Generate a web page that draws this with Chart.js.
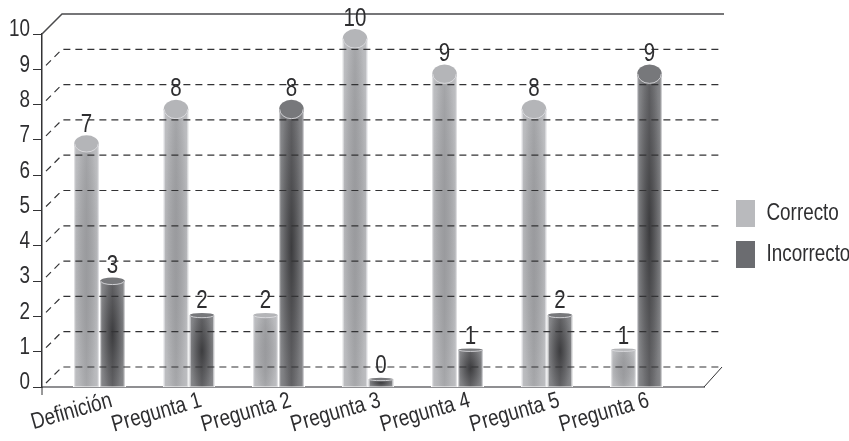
<!DOCTYPE html>
<html>
<head>
<meta charset="utf-8">
<script src="https://cdn.jsdelivr.net/npm/chart.js@4"></script>
<style>
  html, body { margin: 0; padding: 0; background: #fff; }
  canvas { display: block; }
</style>
</head>
<body>
<canvas id="chart" width="849" height="441"></canvas>
<script>
// data
const categories = ['Definición', 'Pregunta 1', 'Pregunta 2', 'Pregunta 3', 'Pregunta 4', 'Pregunta 5', 'Pregunta 6'];
const correcto = [7, 8, 2, 10, 9, 8, 1];
const incorrecto = [3, 2, 8, 0, 1, 2, 9];
const yTicks = [0, 1, 2, 3, 4, 5, 6, 7, 8, 9, 10];

const fontName = '"Liberation Sans", sans-serif';
const ink = '#2e2e30';

function toPoints(list) {
  return list.map((y, i) => ({ x: i, y: y }));
}

// no condensed face is installed, so squeeze all text on this canvas
const canvas = document.getElementById('chart');
const ctx2d = canvas.getContext('2d');
const rawFillText = ctx2d.fillText;
ctx2d.fillText = function (t, x, y) {
  this.save();
  this.translate(x, y);
  this.scale(0.82, 1);
  rawFillText.call(this, t, 0, 0);
  this.restore();
};

// paints each bar as a shaded cylinder with an elliptical cap
function drawCylinder(c, el, value, edge, mid, core, capFill) {
  const w = el.width;
  const left = el.x - w / 2;
  const ry = Math.max(1.5, Math.min(9.5, value * 1.2));
  const top = el.y - 3 - ry * 0.2;
  const cy = top + ry;
  const base = el.base;

  c.save();
  c.clearRect(left - 1, el.y - 1, w + 2, base - el.y + 1);
  const g = c.createLinearGradient(left, 0, left + w, 0);
  g.addColorStop(0, edge);
  g.addColorStop(0.5, mid);
  g.addColorStop(1, edge);
  c.fillStyle = g;
  c.fillRect(left, cy, w, base - cy);

  // dark blot in the middle of the body
  const h = base - cy;
  if (h > 4) {
    c.save();
    c.beginPath();
    c.rect(left, cy, w, h);
    c.clip();
    c.translate(el.x, cy + h / 2);
    c.scale(1, h / w);
    const r = c.createRadialGradient(0, 0, 0, 0, 0, w * 0.55);
    r.addColorStop(0, core);
    r.addColorStop(1, 'rgba(60,60,62,0)');
    c.fillStyle = r;
    c.fillRect(-w, -w, w * 2, w * 2);
    c.restore();
  }

  c.fillStyle = 'rgba(235,235,238,0.75)';
  c.fillRect(left, cy, 1, h);
  c.fillRect(left + w - 1, cy, 1, h);

  c.beginPath();
  c.ellipse(el.x, cy, w / 2, ry, 0, 0, Math.PI * 2);
  c.fillStyle = capFill;
  c.fill();
  c.beginPath();
  c.ellipse(el.x, cy, w / 2 - 0.5, ry, 0, 0, Math.PI);
  c.strokeStyle = 'rgba(225,225,228,0.85)';
  c.lineWidth = 1;
  c.stroke();
  c.restore();
}

const box3d = {
  id: 'box3d',
  beforeLayout(chart) {
    // keep the plot's right edge fixed whatever the legend text measures
    const lg = chart.legend;
    if (!lg.rawFit) {
      lg.rawFit = lg.fit;
      lg.fit = function () {
        this.rawFit();
        this.width = 145;
      };
    }
  },
  afterLayout(chart) {
    chart.legend.left = 722;
    chart.legend.top = 186;
  },
  afterDatasetsDraw(chart) {
    const c = chart.ctx;
    const y = chart.scales.y;
    const area = chart.chartArea;
    const depthX = 20;
    const depthY = 20;

    const styles = [
      ['#bfc0c3', '#a9aaad', 'rgba(120,120,124,0.3)', '#b4b5b8'],
      ['#8b8c8f', '#636366', 'rgba(40,40,42,0.65)', '#77787b']
    ];
    chart.data.datasets.forEach((ds, d) => {
      chart.getDatasetMeta(d).data.forEach((el, i) => {
        const s = styles[d];
        drawCylinder(c, el, ds.data[i].y, s[0], s[1], s[2], s[3]);
      });
    });

    // back wall lines run over the bars
    c.save();
    yTicks.forEach(v => {
      const py = y.getPixelForValue(v);
      c.beginPath();
      if (v === 10) {
        c.moveTo(area.left, py);
        c.lineTo(area.left + depthX, py - depthY);
        c.lineTo(area.right + depthX, py - depthY);
        c.strokeStyle = '#4a4a4c';
        c.lineWidth = 1.5;
        c.setLineDash([]);
      } else {
        c.moveTo(area.left + 4, py - 4);
        c.lineTo(area.left + depthX, py - depthY);
        c.lineTo(area.right + 16, py - depthY);
        c.strokeStyle = '#333335';
        c.lineWidth = 1.2;
        c.setLineDash([7, 5]);
      }
      c.stroke();
    });
    c.setLineDash([]);

    // floor edge on the right and the axis foot
    const py0 = y.getPixelForValue(0);
    c.strokeStyle = '#333335';
    c.lineWidth = 1;
    c.beginPath();
    c.moveTo(area.right, py0);
    c.lineTo(area.right + 18, py0 - depthY);
    c.moveTo(area.left, py0);
    c.lineTo(area.left, py0 + 8);
    c.stroke();
    c.restore();

    // value labels
    c.save();
    c.font = '25px ' + fontName;
    c.fillStyle = ink;
    c.textAlign = 'center';
    c.textBaseline = 'middle';
    chart.data.datasets.forEach((ds, d) => {
      chart.getDatasetMeta(d).data.forEach((el, i) => {
        c.fillText(ds.data[i].y, el.x, el.y - 15);
      });
    });
    c.restore();
  }
};

new Chart(canvas, {
  type: 'bar',
  data: {
    datasets: [
      { label: 'Correcto', data: toPoints(correcto), backgroundColor: '#b9babd' },
      { label: 'Incorrecto', data: toPoints(incorrecto), backgroundColor: '#6b6c70' }
    ]
  },
  options: {
    responsive: false,
    animation: false,
    devicePixelRatio: 1,
    categoryPercentage: 0.58,
    barPercentage: 0.945,
    minBarLength: 6,
    layout: { padding: { top: 34, left: 0, right: 0, bottom: 0 } },
    scales: {
      x: {
        type: 'linear',
        offset: false,
        min: -0.642,
        max: 6.754,
        afterFit(s) {
          s.height = 54;
          s.paddingLeft = 0;
          s.paddingRight = 0;
        },
        afterBuildTicks(s) { s.ticks = categories.map((n, i) => ({ value: i })); },
        grid: { display: false },
        border: { color: '#8f8f92', width: 2 },
        ticks: {
          callback: v => categories[v],
          autoSkip: false,
          minRotation: 16,
          maxRotation: 16,
          labelOffset: 12,
          padding: -8,
          color: ink,
          font: { family: fontName, size: 23 }
        }
      },
      y: {
        min: 0,
        max: 10,
        afterFit(s) { s.width = 42; },
        grid: { drawOnChartArea: false, tickLength: 9, color: '#333335' },
        border: { color: '#333335', width: 1.5 },
        ticks: {
          stepSize: 1,
          padding: 3,
          labelOffset: -4,
          color: ink,
          font: { family: fontName, size: 23 }
        }
      }
    },
    plugins: {
      tooltip: { enabled: false },
      legend: {
        position: 'right',
        align: 'start',
        labels: {
          boxWidth: 19,
          boxHeight: 27,
          padding: 14,
          color: ink,
          font: { family: fontName, size: 23 }
        }
      }
    }
  },
  plugins: [box3d]
});
</script>
</body>
</html>
